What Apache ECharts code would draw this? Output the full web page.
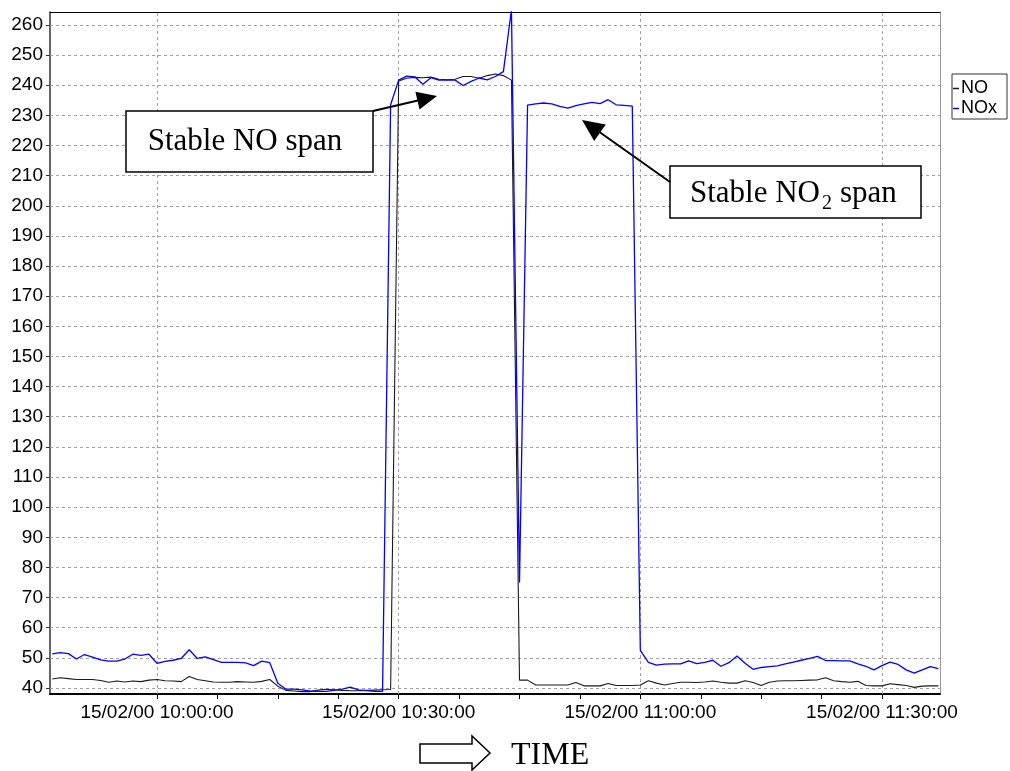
<!DOCTYPE html>
<html><head><meta charset="utf-8">
<script src="https://cdn.jsdelivr.net/npm/echarts@6/dist/echarts.min.js"></script>
<style>html,body{margin:0;padding:0;background:#fff}#c{width:1010px;height:771px}</style>
</head><body><div id="c"></div>
<script>
// ---- data ----
const times = [
'09:47','09:48','09:49','09:50','09:51','09:52','09:53','09:54','09:55','09:56','09:57','09:58','09:59',
'10:00','10:01','10:02','10:03','10:04','10:05','10:06','10:07','10:08','10:09','10:10','10:11','10:12','10:13','10:14',
'10:15','10:16','10:17','10:18','10:19','10:20','10:21','10:22','10:23','10:24','10:25','10:26','10:27','10:28','10:29',
'10:30','10:31','10:32','10:33','10:34','10:35','10:36','10:37','10:38','10:39','10:40','10:41','10:42','10:43','10:44',
'10:45','10:46','10:47','10:48','10:49','10:50','10:51','10:52','10:53','10:54','10:55','10:56','10:57','10:58','10:59',
'11:00','11:01','11:02','11:03','11:04','11:05','11:06','11:07','11:08','11:09','11:10','11:11','11:12','11:13','11:14',
'11:15','11:16','11:17','11:18','11:19','11:20','11:21','11:22','11:23','11:24','11:25','11:26','11:27','11:28','11:29',
'11:30','11:31','11:32','11:33','11:34','11:35','11:36','11:37'];
const noValues = [
43.0,43.4,43.1,42.8,42.8,42.8,42.5,41.9,42.3,42.0,42.3,42.1,42.6,
42.8,42.4,42.3,42.1,43.8,42.8,42.4,42.0,41.9,41.9,42.1,42.0,41.9,42.2,42.8,
40.6,39.2,39.0,38.8,38.8,39.3,39.6,39.4,39.2,39.1,39.1,39.2,39.3,39.4,39.5,
241.4,242.3,242.6,242.5,242.7,242.0,241.8,242.0,242.9,242.9,242.3,243.2,243.7,243.2,241.7,
42.6,42.6,41.0,41.0,41.0,41.0,41.0,41.8,40.7,40.7,40.7,41.5,40.8,40.8,40.8,
41.0,42.4,41.6,41.0,41.5,41.9,41.9,41.8,42.0,42.3,41.9,41.6,41.6,42.4,41.8,
40.8,41.9,42.3,42.4,42.4,42.5,42.6,42.7,43.4,42.4,42.1,41.9,42.2,40.8,40.7,
40.7,41.4,41.1,40.8,40.2,40.6,40.7,40.7];
const noxValues = [
51.3,51.7,51.4,49.6,51.1,50.2,49.3,48.9,48.9,49.6,51.2,50.8,51.2,
48.2,48.8,49.2,49.8,52.7,49.8,50.3,49.4,48.5,48.5,48.5,48.3,47.4,48.9,48.4,
41.6,39.6,39.6,39.4,39.0,38.9,38.9,39.2,39.6,40.3,39.4,39.1,38.9,38.9,233.5,
241.7,243.0,242.8,240.3,242.5,241.7,241.7,241.7,239.9,241.3,242.4,241.8,242.9,244.5,265.0,
75.0,233.4,233.8,234.1,233.8,233.0,232.4,233.2,233.8,234.3,233.9,235.2,233.5,233.3,233.1,
52.5,48.5,47.6,47.9,48.0,48.0,49.0,48.1,48.5,49.2,47.2,48.4,50.6,48.2,46.2,
46.8,47.1,47.3,48.0,48.6,49.2,49.8,50.5,49.1,49.1,49.0,49.0,48.0,47.2,46.0,
47.4,48.6,47.8,46.0,44.9,46.0,47.1,46.4];
const seriesNames = ['NO', 'NOx'];
const yTickLabels = [40,50,60,70,80,90,100,110,120,130,140,150,160,170,180,190,200,210,220,230,240,250,260];
const xTickLabels = ['10:00:00', '10:30:00', '11:00:00', '11:30:00'];
const xMinorTicks = ['10:00:00','10:07:30','10:15:00','10:22:30','10:30:00','10:37:30','10:45:00','10:52:30','11:00:00','11:07:30','11:15:00','11:22:30','11:30:00'];
const datePrefix = '15/02/00';

// ---- helpers ----
function toMin(t) { const p = t.split(':').map(Number); return p[0] * 60 + p[1] + (p[2] || 0) / 60 - 600; }
const xMin = toMin('09:46:43'), xMax = toMin('11:37:12');
const yMin = 38, yMax = 264.3;
const xLabelVals = xTickLabels.map(toMin);
const noData = times.map((t, i) => [toMin(t), noValues[i]]);
const noxData = times.map((t, i) => [toMin(t), noxValues[i]]);

const sans = 'Liberation Sans, Arial, sans-serif';
const serif = 'Liberation Serif, Times New Roman, serif';

const chart = echarts.init(document.getElementById('c'), null, { renderer: 'canvas' });
const gridMarks = yTickLabels.map(v => ({ yAxis: v })).concat(xLabelVals.map(v => ({ xAxis: v })));

chart.setOption({
  animation: false,
  backgroundColor: '#fff',
  grid: { left: 50, right: 70, top: 12, bottom: 77 },
  legend: {
    data: seriesNames, orient: 'vertical', left: 952, top: 74,
    icon: 'rect', itemWidth: 6, itemHeight: 1.5, itemGap: 1,
    padding: [5, 10, 1, 1], borderColor: '#333', borderWidth: 1,
    textStyle: { fontFamily: sans, fontSize: 18, lineHeight: 19, color: '#000', padding: [0, 0, 0, -3] },
    selectedMode: false
  },
  xAxis: [{
    type: 'value', min: xMin, max: xMax, position: 'bottom',
    axisLine: { show: true, onZero: false, lineStyle: { color: '#000', width: 2 } },
    axisTick: { show: true, customValues: xMinorTicks.map(toMin), length: 5, lineStyle: { color: '#000' } },
    axisLabel: {
      customValues: xLabelVals, margin: 9, fontFamily: sans, fontSize: 19, color: '#000',
      formatter: v => { const i = xLabelVals.findIndex(x => Math.abs(x - v) < 1e-6); return i >= 0 ? datePrefix + ' ' + xTickLabels[i] : ''; }
    },
    splitLine: { show: false }
  }, {
    type: 'value', min: xMin, max: xMax, position: 'top',
    axisLine: { show: true, onZero: false, lineStyle: { color: '#000', width: 1 } },
    axisTick: { show: false }, axisLabel: { show: false }, splitLine: { show: false }
  }],
  yAxis: [{
    type: 'value', min: yMin, max: yMax, position: 'left',
    axisLine: { show: true, onZero: false, lineStyle: { color: '#333', width: 1.5 } },
    axisTick: { show: true, customValues: yTickLabels, length: 4, lineStyle: { color: '#333' } },
    axisLabel: { customValues: yTickLabels, margin: 7, fontFamily: sans, fontSize: 19, color: '#000' },
    splitLine: { show: false }
  }, {
    type: 'value', min: yMin, max: yMax, position: 'right',
    axisLine: { show: true, onZero: false, lineStyle: { color: '#999', width: 1 } },
    axisTick: { show: false }, axisLabel: { show: false }, splitLine: { show: false }
  }],
  series: [
    {
      name: '__grid', type: 'line', data: [[xMin, yMin]], silent: true, showSymbol: false, symbol: 'none',
      lineStyle: { opacity: 0 }, z: 1,
      markLine: { silent: true, z: 1, symbol: 'none', label: { show: false }, animation: false,
        lineStyle: { color: '#a0a0a0', type: [3, 3], width: 1 }, emphasis: { disabled: true }, data: gridMarks }
    },
    { name: 'NO', type: 'line', data: noData, symbol: 'none', z: 3,
      lineStyle: { color: '#1a1a1a', width: 1.1 }, itemStyle: { color: '#1a1a1a' } },
    { name: 'NOx', type: 'line', data: noxData, symbol: 'none', z: 4,
      lineStyle: { color: '#0000ff', width: 1.3 }, itemStyle: { color: '#0000ff' } }
  ],
  graphic: [
    { type: 'rect', shape: { x: 126, y: 111, width: 247, height: 61 }, style: { fill: '#fff', stroke: '#000', lineWidth: 1.5 }, z: 100 },
    { type: 'text', x: 245, y: 142, style: { text: 'Stable NO span', font: '31px ' + serif, fill: '#000', textAlign: 'center', textVerticalAlign: 'middle' }, z: 101 },
    { type: 'line', shape: { x1: 373, y1: 111, x2: 420, y2: 100 }, style: { stroke: '#000', lineWidth: 2 }, z: 100 },
    { type: 'polygon', shape: { points: [[437, 96], [419.5, 109.4], [415.4, 91.8]] }, style: { fill: '#000' }, z: 100 },

    { type: 'rect', shape: { x: 670, y: 166, width: 251, height: 52 }, style: { fill: '#fff', stroke: '#000', lineWidth: 1.5 }, z: 100 },
    { type: 'text', x: 820, y: 194, style: { text: 'Stable NO', font: '31px ' + serif, fill: '#000', textAlign: 'right', textVerticalAlign: 'middle' }, z: 101 },
    { type: 'text', x: 822, y: 204, style: { text: '2', font: '20px ' + serif, fill: '#000', textAlign: 'left', textVerticalAlign: 'middle' }, z: 101 },
    { type: 'text', x: 840, y: 194, style: { text: 'span', font: '31px ' + serif, fill: '#000', textAlign: 'left', textVerticalAlign: 'middle' }, z: 101 },
    { type: 'line', shape: { x1: 670, y1: 182, x2: 598, y2: 131 }, style: { stroke: '#000', lineWidth: 2 }, z: 100 },
    { type: 'polygon', shape: { points: [[582, 120], [605.8, 124.5], [594.2, 140.9]] }, style: { fill: '#000' }, z: 100 },

    { type: 'polygon', shape: { points: [[420, 744], [472, 744], [472, 736], [490, 753], [472, 770], [472, 763], [420, 763]] },
      style: { fill: '#fff', stroke: '#000', lineWidth: 1.5 }, z: 100 },
    { type: 'text', x: 511, y: 756, style: { text: 'TIME', font: '32px ' + serif, fill: '#000', textAlign: 'left', textVerticalAlign: 'middle' }, z: 101 }
  ]
});
</script>
</body></html>
